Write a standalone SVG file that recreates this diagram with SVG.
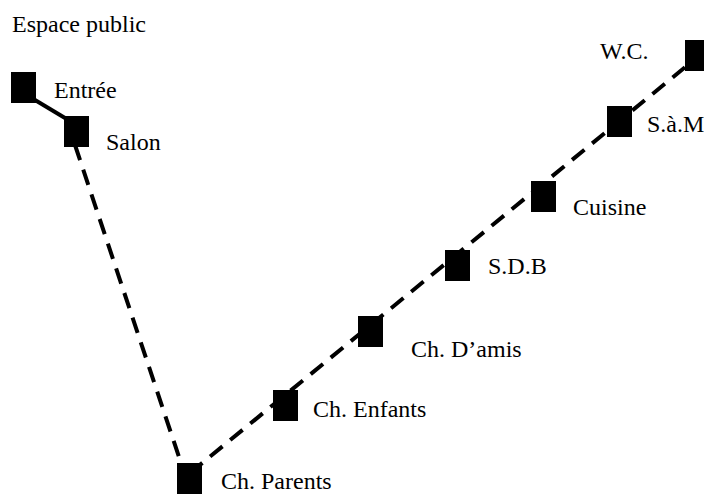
<svg xmlns="http://www.w3.org/2000/svg" width="704" height="494" viewBox="0 0 704 494">
<style>
.n{fill:#000}
.t{font-family:"Liberation Serif","Times New Roman",serif;font-size:24px;fill:#000}
.solid{stroke:#000;stroke-width:4;fill:none}
.dash{stroke:#000;stroke-width:4;fill:none;stroke-dasharray:16 10}
</style>
<rect width="704" height="494" fill="#fff"/>
<text class="t" x="12" y="32">Espace public</text>
<g id="connectors">
<line class="solid" x1="30" y1="97" x2="70" y2="121"/>
<line class="dash" x1="75" y1="145" x2="182" y2="466"/>
<line class="dash" x1="190" y1="473" x2="700" y2="55"/>
</g>
<g id="entree"><rect class="n" x="11" y="72" width="25" height="31"/><text class="t" x="54" y="98">Entrée</text></g>
<g id="salon"><rect class="n" x="64" y="116" width="25" height="31"/><text class="t" x="106" y="150">Salon</text></g>
<g id="ch-parents"><rect class="n" x="177" y="463" width="25" height="31"/><text class="t" x="221" y="489">Ch. Parents</text></g>
<g id="ch-enfants"><rect class="n" x="273" y="390" width="25" height="31"/><text class="t" x="313" y="417">Ch. Enfants</text></g>
<g id="ch-damis"><rect class="n" x="358" y="316" width="25" height="31"/><text class="t" x="411" y="357">Ch. D’amis</text></g>
<g id="sdb"><rect class="n" x="445" y="250" width="25" height="31"/><text class="t" x="488" y="274">S.D.B</text></g>
<g id="cuisine"><rect class="n" x="531" y="181" width="25" height="31"/><text class="t" x="573" y="215">Cuisine</text></g>
<g id="sam"><rect class="n" x="607" y="106" width="25" height="31"/><text class="t" x="647" y="132">S.à.M</text></g>
<g id="wc"><rect class="n" x="685" y="40" width="25" height="31"/><text class="t" x="600" y="59">W.C.</text></g>
</svg>
